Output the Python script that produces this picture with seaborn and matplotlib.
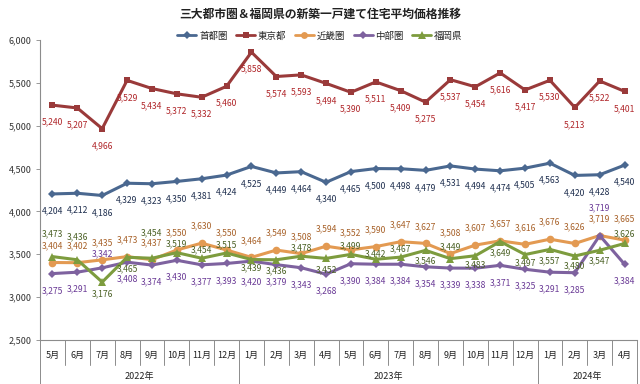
#!/usr/bin/env python3
"""
三大都市圏＆福岡県の新築一戸建て住宅平均価格推移 (line chart, seaborn)
"""

import pandas as pd
import matplotlib
matplotlib.use('Agg')
import matplotlib.pyplot as plt
import matplotlib.transforms as mtransforms
from matplotlib.lines import Line2D
import seaborn as sns

# ---- data (万円) ----
months = ['5月', '6月', '7月', '8月', '9月', '10月', '11月', '12月',
          '1月', '2月', '3月', '4月', '5月', '6月', '7月', '8月', '9月', '10月', '11月', '12月',
          '1月', '2月', '3月', '4月']
years = ['2022年', '2023年', '2024年']
year_counts = [8, 12, 4]

shutoken = [4204, 4212, 4186, 4329, 4323, 4350, 4381, 4424,
            4525, 4449, 4464, 4340, 4465, 4500, 4498, 4479, 4531, 4494, 4474, 4505,
            4563, 4420, 4428, 4540]
tokyo = [5240, 5207, 4966, 5529, 5434, 5372, 5332, 5460,
         5858, 5574, 5593, 5494, 5390, 5511, 5409, 5275, 5537, 5454, 5616, 5417,
         5530, 5213, 5522, 5401]
kinki = [3404, 3402, 3435, 3473, 3437, 3550, 3630, 3550,
         3464, 3549, 3508, 3594, 3552, 3590, 3647, 3627, 3508, 3607, 3657, 3616,
         3676, 3626, 3719, 3665]
chubu = [3275, 3291, 3342, 3408, 3374, 3430, 3377, 3393,
         3420, 3379, 3343, 3268, 3390, 3384, 3384, 3354, 3339, 3338, 3371, 3325,
         3291, 3285, 3719, 3384]
fukuoka = [3473, 3436, 3176, 3465, 3454, 3519, 3454, 3515,
           3439, 3436, 3478, 3452, 3499, 3442, 3467, 3546, 3449, 3483, 3649, 3497,
           3557, 3480, 3547, 3626]

areas = ['首都圏', '東京都', '近畿圏', '中部圏', '福岡県']
series = [shutoken, tokyo, kinki, chubu, fukuoka]

line_colors = {'首都圏': '#4A6890', '東京都': '#9A3A3A', '近畿圏': '#E39A52',
               '中部圏': '#7E629F', '福岡県': '#7D9C3E'}
label_colors = {'首都圏': '#1F2F4F', '東京都': '#B0262A', '近畿圏': '#A8622A',
                '中部圏': '#6A3A96', '福岡県': '#4B6125'}
markers = {'首都圏': 'D', '東京都': 's', '近畿圏': 'o', '中部圏': 'D', '福岡県': '^'}
marker_size = {'首都圏': 4, '東京都': 5, '近畿圏': 5.5, '中部圏': 4.5, '福岡県': 6}

# label offsets in points (negative = below the point), placed by hand like the original
n = len(months)
label_dy = {
    '首都圏': [-9] * n,
    '東京都': [-9] * n,
    '近畿圏': [9] * n,
    '中部圏': [-9] * n,
    '福岡県': [13, 13, -5, -5, 15, 3, 3, 3,
               -3, -5, 3, -5, 3, 1, 3, -4, 5, -3, -5, -3,
               -5, -4, -4, 4],
}
label_dy['中部圏'][2] = 7
label_dy['中部圏'][8] = -12
label_dy['中部圏'][22] = 17
label_dy['近畿圏'][16] = 12
label_dy['近畿圏'][23] = 12

rows = []
for area, vals in zip(areas, series):
    for i, v in enumerate(vals):
        rows.append({'idx': i, 'price': v, 'area': area})
df = pd.DataFrame(rows)

sns.set_style('white')
plt.rcParams['font.family'] = ['Noto Sans CJK JP', 'DejaVu Sans']

fig = plt.figure(figsize=(6.4, 3.84), dpi=100)
ax = fig.add_axes([40 / 640, 1 - 340 / 384, 597 / 640, 300 / 384])

sns.lineplot(data=df, x='idx', y='price', hue='area', style='area',
             hue_order=areas, style_order=areas,
             palette=line_colors, markers=markers, dashes=False,
             linewidth=2.2, markersize=5, markeredgewidth=0,
             legend=False, ax=ax)

# adjust per-series marker sizes
for line, area in zip(ax.get_lines(), areas):
    line.set_markersize(marker_size[area])

# data labels
for area, vals in zip(areas, series):
    for i, v in enumerate(vals):
        dy = label_dy[area][i]
        ax.annotate(f'{v:,}', (i, v), xytext=(0, dy),
                    textcoords='offset points', ha='center',
                    va='bottom' if dy > 0 else 'top',
                    fontsize=6.2, color=label_colors[area])

ax.set_xlim(-0.5, n - 0.5)
ax.set_ylim(2500, 6000)
ax.set_yticks(range(2500, 6001, 500))
ax.set_yticklabels([f'{t:,}' for t in range(2500, 6001, 500)], fontsize=6.5, color='#333333')
ax.tick_params(axis='y', length=3, width=0.6, color='#888888', pad=3, left=True)
ax.set_xticks([])
ax.set_xlabel('')
ax.set_ylabel('')
for s in ['top', 'right']:
    ax.spines[s].set_visible(False)
for s in ['left', 'bottom']:
    ax.spines[s].set_color('#8C8C8C')
    ax.spines[s].set_linewidth(0.8)

# category axis: months, years and separators
trans = mtransforms.blended_transform_factory(ax.transData, ax.transAxes)
for i, m in enumerate(months):
    ax.text(i, -0.05, m, transform=trans, ha='center', va='center',
            fontsize=6.5, color='#222222')
year_edges = [0]
for c in year_counts:
    year_edges.append(year_edges[-1] + c)
for b in range(n + 1):
    x = b - 0.5
    y_end = -0.147 if b in year_edges else -0.083
    ax.plot([x, x], [0, y_end], transform=trans, color='#8C8C8C',
            linewidth=0.7, clip_on=False)
for yname, start, c in zip(years, year_edges[:-1], year_counts):
    ax.text(start + c / 2 - 0.5, -0.123, yname, transform=trans, ha='center',
            va='center', fontsize=6.5, color='#222222')

# title and legend
fig.text(0.5, 1 - 14 / 384, '三大都市圏＆福岡県の新築一戸建て住宅平均価格推移',
         ha='center', va='center', fontsize=8.5, fontweight='bold', color='#222222')
handles = [Line2D([0], [0], color=line_colors[a], marker=markers[a], linewidth=2,
                  markersize=marker_size[a] * 0.9, markeredgewidth=0)
           for a in areas]
fig.legend(handles, areas, loc='center', bbox_to_anchor=(0.5, 1 - 36 / 384),
           ncol=5, frameon=False, fontsize=6.8, handlelength=2.0,
           handletextpad=0.3, columnspacing=0.9)

fig.savefig('out.png', dpi=100)
